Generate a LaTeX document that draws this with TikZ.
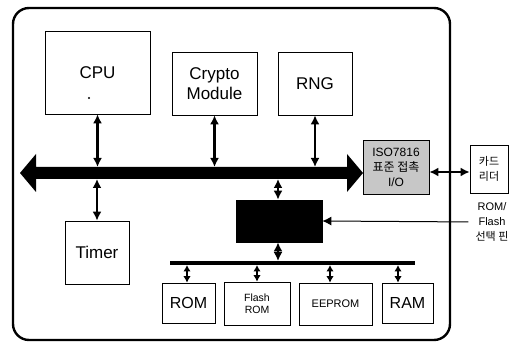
\documentclass[tikz,border=0pt]{standalone}
\usepackage{fontspec}
\setmainfont{Liberation Sans}
\newfontfamily\kofont{Noto Sans CJK KR}
\usetikzlibrary{arrows.meta,positioning}

\begin{document}
\begin{tikzpicture}[x=1pt,y=-1pt,>={Latex[length=9pt,width=9pt]},
  blk/.style={draw,line width=0.7pt,inner sep=0pt,align=center},
  link/.style={<->,line width=2.2pt},
  memlink/.style={{Latex[length=6.5pt,width=7.5pt]}-{Latex[length=6.5pt,width=7.5pt]},line width=2pt},
  fs/.style 2 args={font=\fontsize{#1}{#2}\selectfont}]
\useasboundingbox (0,0) rectangle (514,347);
% chip outline
\draw[line width=2.4pt,rounded corners=16pt] (13,8) rectangle (450,340);
% blocks on the main bus
\node[blk,minimum width=105,minimum height=83,fs={17}{20}] (cpu) at (97.5,72.5) {CPU};
\fill (89,98) circle (1.2);
\node[blk,minimum width=85,minimum height=63,fs={17}{20}] (crypto) at (214.5,83.5) {Crypto\\Module};
\node[blk,minimum width=74,minimum height=63,fs={17}{20}] (rng) at (315,83.5) {RNG};
\node[blk,minimum width=64,minimum height=63,fs={17}{20}] (timer) at (97,252.5) {Timer};
\node[blk,fill=black!22,minimum width=66,minimum height=54,fs={12}{15}] (iso) at (396,167.5) {ISO7816\\{\kofont 표준 접촉}\\I/O};
\node[blk,minimum width=38,minimum height=48,font=\kofont\fontsize{11}{15}\selectfont] (card) at (489,169) {카드\\리더};
\node[blk,fill=black,minimum width=86,minimum height=42] (sel) at (279,221) {};
\node[align=center,inner sep=0pt,fs={11}{15}] (pin) at (492,222) {ROM/\\Flash\\{\kofont 선택 핀}};
% main bus
\coordinate (busL) at (20,173);
\coordinate (busR) at (363,173);
\fill (busL) -- ++(16,-19) -- ++(0,13) -- (347,167) -- ++(0,-13) -- (busR) -- (347,192) -- ++(0,-13) -- (36,179) -- ++(0,13) -- cycle;
% memory bus
\coordinate (mbL) at (170,263);
\coordinate (mbR) at (415,263);
\draw[line width=4pt] (mbL) -- (mbR);
% memories
\node[blk,minimum width=53,minimum height=40,fs={16}{19}] (rom) at (188.5,303) {ROM};
\node[blk,minimum width=66,minimum height=43,fs={10.5}{12.5}] (flash) at (257,303.5) {Flash\\ROM};
\node[blk,minimum width=73,minimum height=42,fs={11}{13}] (eep) at (335.5,304) {EEPROM};
\node[blk,minimum width=51,minimum height=40,fs={16}{19}] (ram) at (407.5,303) {RAM};
% connections
\draw[link] (cpu.south) -- (cpu.south |- 0,167);
\draw[link] (crypto.south) -- (crypto.south |- 0,167);
\draw[link] (rng.south) -- (rng.south |- 0,167);
\draw[link] (timer.north) -- (timer.north |- 0,179);
\draw[link] ([xshift=-1pt]sel.north) -- ([xshift=-1pt]sel.north |- 0,179);
\draw[link] ([xshift=-1pt]sel.south) -- ([xshift=-1pt]sel.south |- 0,261);
\foreach \n/\dx in {rom/-1.5,flash/0,eep/-5.5,ram/-9.5}
  \draw[memlink] ([xshift=\dx pt]\n.north) -- ([xshift=\dx pt]\n.north |- 0,265);
\draw[link] (iso.east |- 0,172) -- (card.west |- 0,172);
\draw[->,line width=1pt,shorten <=7pt] (pin.west) -- (sel.east);
\end{tikzpicture}
\end{document}
